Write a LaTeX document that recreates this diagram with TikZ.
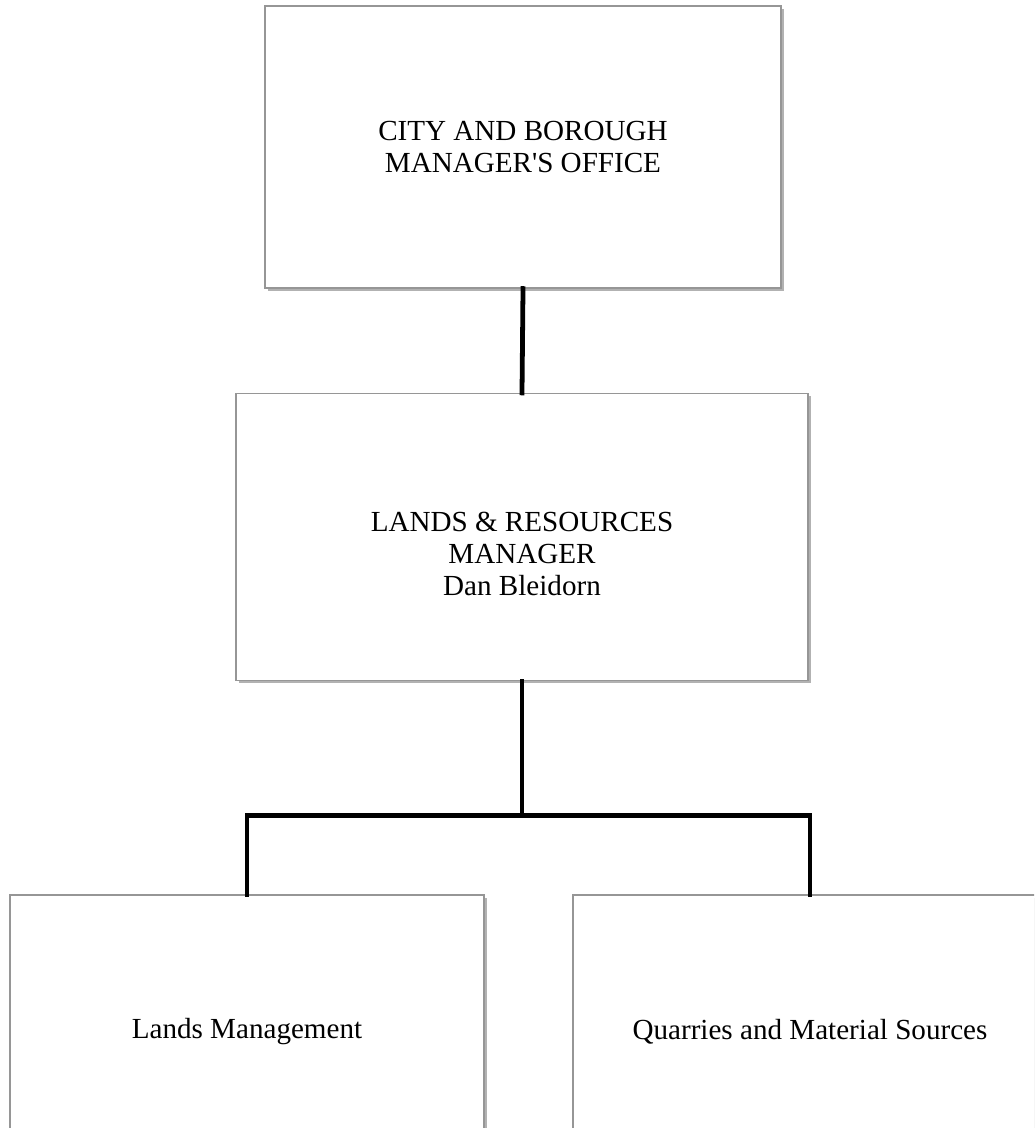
\documentclass[tikz,border=0pt]{standalone}
\usepackage{fontspec}
\setmainfont{Liberation Serif}
\usepackage{tikz}
\usetikzlibrary{positioning, shadows}
\definecolor{boxline}{RGB}{150, 150, 150}

\begin{document}
\begin{tikzpicture}[x=0.025cm, y=-0.025cm]
    % Styles
    \tikzstyle{unit} = [rectangle, draw=boxline, line width=0.9pt, fill=white, align=center, font=\fontsize{20.7}{23}\selectfont, drop shadow={shadow xshift=1.8pt, shadow yshift=-1.8pt, opacity=0.3, fill=black}]
    \tikzstyle{tie} = [line width=3.4pt, black, line cap=rect]

    % Page frame
    \useasboundingbox (0,0) rectangle (1034,1128);
    \clip (0,0) rectangle (1034,1128);

    % Nodes
    \node [unit, minimum width=516*0.025cm, minimum height=282*0.025cm] (office) at (523,147) {CITY AND BOROUGH\\MANAGER\textquotesingle S OFFICE};
    \node [unit, minimum width=572*0.025cm, minimum height=287*0.025cm] (lrm) at (522,537) {\mbox{}\\[15pt]LANDS \& RESOURCES\\MANAGER\\Dan Bleidorn};
    \node [unit, minimum width=474*0.025cm, minimum height=274*0.025cm] (lands) at (247,1032) {Lands Management};
    \node [unit, minimum width=474*0.025cm, minimum height=274*0.025cm] (quarry) at (810,1032) {Quarries and Material Sources};

    % Lines
    \draw [tie] (office.south) -- (lrm.north);
    \draw [tie] (lrm.south) -- ++(0,134) coordinate (fork);
    \draw [tie] (fork) -| (lands.north);
    \draw [tie] (fork) -| (quarry.north);
\end{tikzpicture}
\end{document}
